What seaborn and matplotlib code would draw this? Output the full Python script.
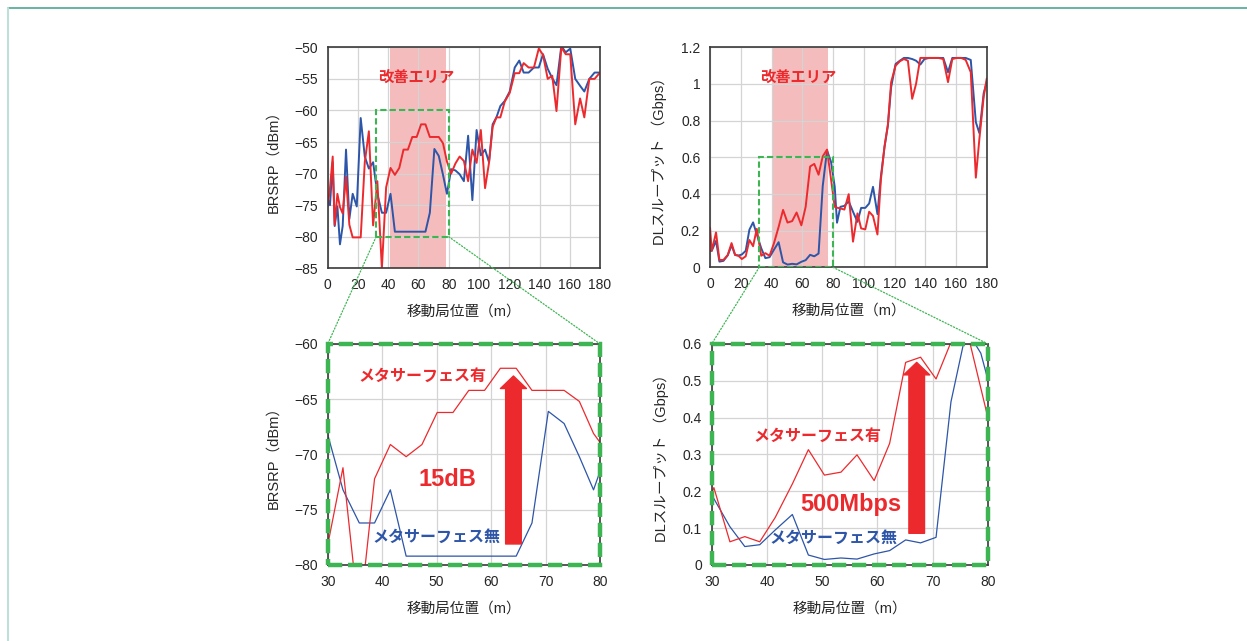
import numpy as np
import pandas as pd
import matplotlib
matplotlib.use('Agg')
import matplotlib.pyplot as plt
import seaborn as sns
from matplotlib.patches import Rectangle, ConnectionPatch
from matplotlib.lines import Line2D
from matplotlib.ticker import FuncFormatter

sns.set_theme(style='white')
plt.rcParams['font.family'] = ['Liberation Sans', 'Noto Sans CJK JP']
plt.rcParams['axes.unicode_minus'] = True

# --- BRSRP (dBm) vs 移動局位置 (m) ---
pos_rsrp = [0, 1.5, 3.3, 4.6, 6.4, 8.1, 9.9, 12.1, 14.3, 16.5,
            19.2, 21.8, 24.5, 27.2, 30.0, 32.8, 35.8, 38.6, 41.5, 44.4,
            47.3, 50.1, 53.0, 55.9, 58.8, 61.7, 64.6, 67.5, 70.5, 73.4,
            76.2, 78.8, 81.6, 84.4, 87.2, 90.0, 92.8, 95.6, 98.4, 101.2,
            104.0, 106.6, 109.0, 111.5, 114.1, 117.0, 120.3, 123.6, 126.6, 129.5,
            132.8, 136.3, 139.5, 142.3, 145.4, 148.4, 151.2, 154.4, 157.3, 160.3,
            163.6, 166.8, 169.6, 172.9, 176.4, 179.6]
rsrp_with = [-75.2, -72.3, -67.3, -78.1, -73.2, -75.3, -76.3, -70.5, -78.1, -80.1,
             -80.1, -80.1, -68.2, -63.3, -78.2, -71.2, -85.0, -72.2, -69.1, -70.2,
             -69.1, -66.2, -66.2, -64.2, -64.2, -62.2, -62.2, -64.2, -64.2, -64.2,
             -65.2, -68.1, -70.0, -68.4, -67.3, -68.0, -71.2, -66.2, -68.3, -63.1,
             -72.3, -68.3, -62.6, -61.1, -61.1, -58.6, -57.2, -54.1, -54.1, -52.5,
             -53.2, -53.2, -50.2, -51.2, -55.0, -54.5, -60.1, -50.0, -51.1, -51.1,
             -62.2, -58.1, -61.1, -55.0, -55.0, -54.1]
rsrp_without = [-74.0, -75.0, -68.2, -78.3, -75.2, -81.2, -78.3, -66.2, -77.2, -73.2,
                -75.2, -61.2, -67.3, -69.2, -68.2, -73.2, -76.2, -76.2, -73.2, -79.2,
                -79.2, -79.2, -79.2, -79.2, -79.2, -79.2, -79.2, -76.2, -66.1, -67.2,
                -70.2, -73.2, -69.3, -69.5, -70.1, -71.2, -64.0, -74.2, -63.1, -67.1,
                -66.2, -68.2, -62.2, -61.1, -59.3, -58.5, -57.0, -53.2, -52.1, -54.0,
                -54.0, -53.2, -53.2, -51.1, -53.4, -54.9, -56.0, -49.8, -50.8, -50.2,
                -55.0, -56.1, -57.0, -55.0, -54.0, -54.0]

# --- DLスループット (Gbps) vs 移動局位置 (m) ---
pos_dl = [0, 1.1, 3.9, 6.1, 8.7, 11.5, 14.0, 16.3, 18.5, 20.7,
          23.2, 25.6, 28.0, 30.4, 33.3, 36.0, 38.7, 41.5, 44.6, 47.5,
          50.4, 53.4, 56.3, 59.4, 62.2, 65.1, 67.8, 70.6, 73.3, 76.1,
          78.7, 81.1, 82.6, 84.8, 87.4, 90.2, 93.0, 95.9, 98.3, 101.0,
          103.5, 106.0, 108.9, 111.1, 113.5, 115.7, 117.8, 120.7, 123.5, 126.1,
          128.7, 131.5, 134.0, 136.8, 139.5, 142.5, 145.5, 148.6, 151.7, 154.8,
          157.6, 160.5, 163.4, 166.3, 169.6, 172.9, 175.2, 178.0, 180.0]
dl_with = [0.216, 0.09, 0.19, 0.04, 0.04, 0.067, 0.132, 0.068, 0.063, 0.045,
           0.06, 0.149, 0.115, 0.21, 0.063, 0.077, 0.063, 0.129, 0.22, 0.313,
           0.244, 0.252, 0.299, 0.229, 0.33, 0.55, 0.564, 0.505, 0.605, 0.642,
           0.48, 0.33, 0.325, 0.321, 0.315, 0.399, 0.14, 0.294, 0.212, 0.207,
           0.303, 0.28, 0.179, 0.475, 0.66, 0.779, 1.01, 1.1, 1.124, 1.136,
           1.127, 0.919, 1.0, 1.142, 1.142, 1.142, 1.142, 1.142, 1.136, 1.01,
           1.136, 1.142, 1.142, 1.131, 1.064, 0.489, 0.7, 0.93, 1.03]
dl_without = [0.09, 0.09, 0.144, 0.031, 0.035, 0.065, 0.12, 0.067, 0.064, 0.07,
              0.09, 0.205, 0.245, 0.18, 0.104, 0.05, 0.055, 0.095, 0.137, 0.027,
              0.015, 0.019, 0.016, 0.03, 0.039, 0.068, 0.06, 0.075, 0.443, 0.638,
              0.575, 0.44, 0.243, 0.33, 0.335, 0.36, 0.303, 0.248, 0.324, 0.324,
              0.348, 0.439, 0.29, 0.493, 0.656, 0.774, 0.982, 1.109, 1.127, 1.142,
              1.142, 1.136, 1.127, 1.106, 1.136, 1.142, 1.142, 1.142, 1.142, 1.064,
              1.142, 1.142, 1.142, 1.142, 1.131, 0.792, 0.732, 0.95, 1.01]

area_rsrp = (41, 78)   # 改善エリア
area_dl = (40, 77)
zoom_x = (32, 80)      # 拡大範囲

RED = '#ec2a2e'
BLUE = '#2d55a8'
GREEN = '#3db553'
PINK = '#f4bcbc'
palette = {'有': RED, '無': BLUE}

df_rsrp = pd.concat([
    pd.DataFrame({'pos': pos_rsrp, 'val': rsrp_without, 'series': '無'}),
    pd.DataFrame({'pos': pos_rsrp, 'val': rsrp_with, 'series': '有'}),
])
df_dl = pd.concat([
    pd.DataFrame({'pos': pos_dl, 'val': dl_without, 'series': '無'}),
    pd.DataFrame({'pos': pos_dl, 'val': dl_with, 'series': '有'}),
])

fig = plt.figure(figsize=(12.47, 6.41), dpi=100)
fig.patch.set_facecolor('white')

ax_tl = fig.add_axes([0.2628, 0.5814, 0.2184, 0.3448])
ax_tr = fig.add_axes([0.5694, 0.5830, 0.2219, 0.3432])
ax_bl = fig.add_axes([0.2628, 0.1186, 0.2184, 0.3448])
ax_br = fig.add_axes([0.5707, 0.1186, 0.2216, 0.3448])

g = lambda v, p: '{:g}'.format(v)


def style(ax):
    ax.set_axisbelow(True)
    ax.grid(True, color='#d4d4d4', lw=0.9)
    for s in ax.spines.values():
        s.set_color('#3a3a3a')
        s.set_linewidth(1.2)
    ax.tick_params(length=0, pad=7, labelsize=10, colors='#262626')


def lines(ax, df, lw):
    sns.lineplot(data=df, x='pos', y='val', hue='series', hue_order=['無', '有'],
                 palette=palette, estimator=None, sort=False, lw=lw,
                 legend=False, ax=ax)


# 上段左: BRSRP
lines(ax_tl, df_rsrp, 1.4)
ax_tl.axvspan(*area_rsrp, color=PINK, zorder=0.2, lw=0)
ax_tl.set_xlim(0, 180)
ax_tl.set_ylim(-85, -50)
ax_tl.set_xticks(range(0, 181, 20))
ax_tl.set_yticks(range(-85, -49, 5))
ax_tl.add_patch(Rectangle((zoom_x[0], -80), zoom_x[1] - zoom_x[0], 20, fill=False,
                          ec=GREEN, lw=1.5, ls=(0, (3, 1.5)), zorder=5))
ax_tl.text(58.3, -54.8, '改善エリア', color=RED, fontsize=11, fontweight='bold',
           ha='center', va='center')

# 上段右: DLスループット
lines(ax_tr, df_dl, 1.4)
ax_tr.axvspan(*area_dl, color=PINK, zorder=0.2, lw=0)
ax_tr.set_xlim(0, 180)
ax_tr.set_ylim(0, 1.2)
ax_tr.set_xticks(range(0, 181, 20))
ax_tr.set_yticks(np.arange(0, 1.21, 0.2))
ax_tr.yaxis.set_major_formatter(FuncFormatter(g))
ax_tr.add_patch(Rectangle((zoom_x[0], 0), zoom_x[1] - zoom_x[0], 0.6, fill=False,
                          ec=GREEN, lw=1.5, ls=(0, (3, 1.5)), zorder=5))
ax_tr.text(57.3, 1.034, '改善エリア', color=RED, fontsize=11, fontweight='bold',
           ha='center', va='center')

# 下段左: BRSRP 拡大
lines(ax_bl, df_rsrp, 0.9)
ax_bl.set_xlim(30, 80)
ax_bl.set_ylim(-80, -60)
ax_bl.set_xticks(range(30, 81, 10))
ax_bl.set_yticks(range(-80, -59, 5))
ax_bl.text(47.3, -62.96, 'メタサーフェス有', color=RED, fontsize=11.5,
           fontweight='bold', ha='center', va='center')
ax_bl.text(49.9, -77.5, 'メタサーフェス無', color=BLUE, fontsize=11.5,
           fontweight='bold', ha='center', va='center')
ax_bl.text(52, -72.3, '15dB', color=RED, fontsize=17, fontweight='bold',
           ha='center', va='center')
ax_bl.annotate('', xy=(64.1, -62.9), xytext=(64.1, -78.1),
               arrowprops=dict(arrowstyle='simple,head_length=0.6,head_width=1.25,tail_width=0.75',
                               color=RED, shrinkA=0, shrinkB=0, mutation_scale=15))

# 下段右: DLスループット 拡大
lines(ax_br, df_dl, 0.9)
ax_br.set_xlim(30, 80)
ax_br.set_ylim(0, 0.6)
ax_br.set_xticks(range(30, 81, 10))
ax_br.set_yticks(np.arange(0, 0.61, 0.1))
ax_br.yaxis.set_major_formatter(FuncFormatter(g))
ax_br.text(49.2, 0.348, 'メタサーフェス有', color=RED, fontsize=11.5,
           fontweight='bold', ha='center', va='center')
ax_br.text(52.1, 0.0725, 'メタサーフェス無', color=BLUE, fontsize=11.5,
           fontweight='bold', ha='center', va='center')
ax_br.text(55.2, 0.163, '500Mbps', color=RED, fontsize=17, fontweight='bold',
           ha='center', va='center')
ax_br.annotate('', xy=(67.1, 0.55), xytext=(67.1, 0.086),
               arrowprops=dict(arrowstyle='simple,head_length=0.6,head_width=1.25,tail_width=0.75',
                               color=RED, shrinkA=0, shrinkB=0, mutation_scale=15))

for ax in (ax_tl, ax_tr, ax_bl, ax_br):
    style(ax)
    ax.set_xlabel('移動局位置（m）', fontsize=10.5, labelpad=9, color='#262626')

ax_tl.set_ylabel('BRSRP（dBm）', fontsize=10.5, labelpad=10, color='#262626')
ax_bl.set_ylabel('BRSRP（dBm）', fontsize=10.5, labelpad=10, color='#262626')
ax_tr.set_ylabel('DLスループット （Gbps）', fontsize=10.5, labelpad=10, color='#262626')
ax_br.set_ylabel('DLスループット （Gbps）', fontsize=10.5, labelpad=10, color='#262626')

# 拡大図の緑破線枠
for ax in (ax_bl, ax_br):
    ax.add_patch(Rectangle((0, 0), 1, 1, transform=ax.transAxes, fill=False,
                           ec=GREEN, lw=3.2, ls=(0, (3.2, 1.3)), clip_on=False, zorder=10))

# 上段の枠と下段をつなぐ点線
for top, bot, y0 in ((ax_tl, ax_bl, -80), (ax_tr, ax_br, 0)):
    for xa, xb in ((zoom_x[0], 0), (zoom_x[1], 1)):
        con = ConnectionPatch(xyA=(xa, y0), coordsA=top.transData,
                              xyB=(xb, 1), coordsB=bot.transAxes,
                              color=GREEN, lw=0.9, ls=(0, (1, 1.5)))
        fig.add_artist(con)

# 外枠
fig.add_artist(Line2D([8 / 1247, 1], [1 - 8 / 641, 1 - 8 / 641], transform=fig.transFigure,
                      color='#4ea794', lw=1.2))
fig.add_artist(Line2D([7.5 / 1247, 7.5 / 1247], [0, 1 - 8 / 641], transform=fig.transFigure,
                      color='#bfe0d8', lw=1.5))

fig.savefig('out.png', dpi=100, facecolor='white')
